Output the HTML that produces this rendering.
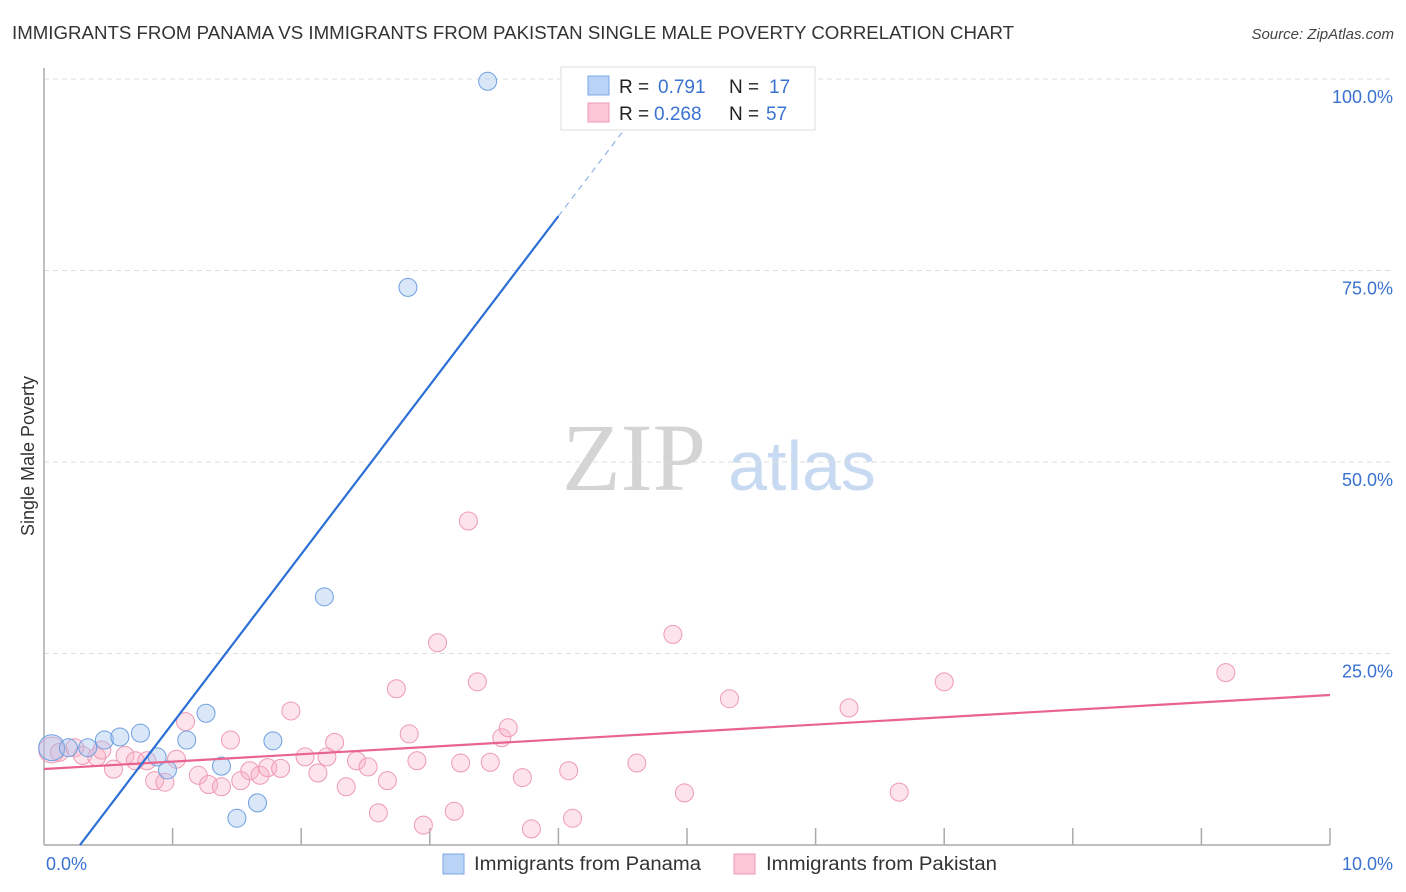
<!DOCTYPE html>
<html><head><meta charset="utf-8"><style>
body{margin:0;background:#fff;font-family:"Liberation Sans",sans-serif;}
#wrap{position:relative;width:1406px;height:892px;overflow:hidden;}
</style></head><body>
<div id="wrap">
<svg id="svg" width="1406" height="892" xmlns="http://www.w3.org/2000/svg">
<text x="12" y="39" font-size="18" fill="#333" textLength="1002" lengthAdjust="spacingAndGlyphs">IMMIGRANTS FROM PANAMA VS IMMIGRANTS FROM PAKISTAN SINGLE MALE POVERTY CORRELATION CHART</text>
<text x="1394" y="39" font-size="15" fill="#444" font-style="italic" text-anchor="end">Source: ZipAtlas.com</text>
<text x="34" y="456" font-size="18" fill="#333" text-anchor="middle" transform="rotate(-90 34 456)">Single Male Poverty</text>
<text x="634" y="490" font-size="96" fill="#d4d4d4" font-family="Liberation Serif,serif" text-anchor="middle">ZIP</text>
<text x="802" y="490" font-size="70" fill="#c8daf2" text-anchor="middle">atlas</text>
<g id="grid"></g>
<g id="marks"></g>
<g>
<rect x="561" y="67" width="254" height="63" fill="#fff" stroke="#ddd"/>
<rect x="588" y="76" width="21" height="19" fill="#b8d3f5" stroke="#7aa8e6"/>
<rect x="588" y="103" width="21" height="19" fill="#fbc7d7" stroke="#ef9ab5"/>
<text y="93" font-size="19" fill="#222"><tspan x="619">R =</tspan><tspan x="658" fill="#3a72d0">0.791</tspan><tspan x="729">N =</tspan><tspan x="769" fill="#3a72d0">17</tspan></text>
<text y="120" font-size="19" fill="#222"><tspan x="619">R =</tspan><tspan x="654" fill="#3a72d0">0.268</tspan><tspan x="729">N =</tspan><tspan x="766" fill="#3a72d0">57</tspan></text>
</g>
<g>
<rect x="443" y="854" width="21" height="20" fill="#b8d3f5" stroke="#7aa8e6"/>
<text x="474" y="870" font-size="19" fill="#333" textLength="227" lengthAdjust="spacingAndGlyphs">Immigrants from Panama</text>
<rect x="734" y="854" width="21" height="20" fill="#fbc7d7" stroke="#ef9ab5"/>
<text x="766" y="870" font-size="19" fill="#333" textLength="231" lengthAdjust="spacingAndGlyphs">Immigrants from Pakistan</text>
</g>
</svg>
</div>
<script>
const xTicks=[0,1,2,3,4,5,6,7,8,9,10];
const yTicks=[25,50,75,100];
const yTickLabels=["25.0%","50.0%","75.0%","100.0%"];
const panamaX=[0.06,0.19,0.34,0.47,0.59,0.75,0.88,0.96,1.11,1.26,1.38,1.50,1.66,1.78,2.18,2.83,3.45];
const panamaY=[12.7,12.7,12.7,13.7,14.1,14.6,11.5,9.8,13.7,17.2,10.3,3.5,5.5,13.6,32.4,72.8,99.7];
const pakistanX=[0.06,0.12,0.24,0.30,0.41,0.45,0.54,0.63,0.71,0.80,0.86,0.94,1.03,1.10,1.20,1.28,1.38,1.45,1.53,1.60,1.68,1.74,1.84,1.92,2.03,2.13,2.20,2.26,2.35,2.43,2.52,2.60,2.67,2.74,2.84,2.90,2.95,3.06,3.19,3.24,3.30,3.37,3.47,3.56,3.61,3.72,3.79,4.08,4.11,4.61,4.89,4.98,5.33,6.26,6.65,7.00,9.19];
const pakistanY=[12.4,12.1,12.7,11.7,11.5,12.4,9.9,11.7,11.0,11.0,8.4,8.2,11.2,16.1,9.1,7.9,7.6,13.7,8.4,9.7,9.1,10.1,10.0,17.5,11.5,9.4,11.5,13.4,7.6,11.0,10.2,4.2,8.4,20.4,14.5,11.0,2.6,26.4,4.4,10.7,42.3,21.3,10.8,14.0,15.3,8.8,2.1,9.7,3.5,10.7,27.5,6.8,19.1,17.9,6.9,21.3,22.5];
const panamaLine=[0.28,4.0];const panamaLineDash=[4.0,4.6];
const pakistanLine=[0,10];
function px(v){return 44+v*128.6;}
function py(v){return 845-v*7.66;}
function panamaFit(x){return 22.07*x-6.18;}
function pakistanFit(x){return 9.92+0.966*x;}
const NS="http://www.w3.org/2000/svg";
function mk(tag,attrs,parent){const e=document.createElementNS(NS,tag);for(const k in attrs)e.setAttribute(k,attrs[k]);parent.appendChild(e);return e;}
const grid=document.getElementById('grid'),marks=document.getElementById('marks');
yTicks.forEach((t,i)=>{
 const l=mk('line',{x1:44,x2:1393,y1:py(t),y2:py(t),stroke:'#ddd','stroke-dasharray':'5,4'},grid);
 
 
 const tx=mk('text',{x:1393,y:py(t)+24,'font-size':18,fill:'#3a72d0','text-anchor':'end'},grid);
 tx.textContent=yTickLabels[i];
 
 
});
const ax=mk('line',{x1:44,x2:44,y1:68,y2:845,stroke:'#aaa','stroke-width':1.5},grid);


const bx=mk('line',{x1:44,x2:1330,y1:845,y2:845,stroke:'#aaa','stroke-width':1.5},grid);


xTicks.slice(1).forEach(t=>{
 const l=mk('line',{x1:px(t),x2:px(t),y1:828,y2:845,stroke:'#aaa','stroke-width':1.5},grid);
 
 
});
const xl=mk('text',{x:46,y:870,'font-size':18,fill:'#3a72d0'},grid);xl.textContent='0.0%';


const xr=mk('text',{x:1393,y:870,'font-size':18,fill:'#3a72d0','text-anchor':'end'},grid);xr.textContent='10.0%';


pakistanX.forEach((x,i)=>{
 const c=mk('circle',{cx:px(x),cy:py(pakistanY[i]),r:i==0?13:9,fill:'rgba(248,175,198,0.35)',stroke:'#ee9ab4','stroke-width':1},marks);
 
 
});
panamaX.forEach((x,i)=>{
 const c=mk('circle',{cx:px(x),cy:py(panamaY[i]),r:i==0?13:9,fill:'rgba(160,196,240,0.4)',stroke:'#6f9fe0','stroke-width':1},marks);
 
 
});
const pl=mk('line',{x1:px(pakistanLine[0]),y1:py(pakistanFit(pakistanLine[0])),x2:px(pakistanLine[1]),y2:py(pakistanFit(pakistanLine[1])),stroke:'#e8638f','stroke-width':2.2},marks);


const bl=mk('line',{x1:px(panamaLine[0]),y1:py(panamaFit(panamaLine[0])),x2:px(panamaLine[1]),y2:py(panamaFit(panamaLine[1])),stroke:'#2c6fd6','stroke-width':2.2},marks);


const bd=mk('line',{x1:px(panamaLineDash[0]),y1:py(panamaFit(panamaLineDash[0])),x2:px(panamaLineDash[1]),y2:py(panamaFit(panamaLineDash[1])),stroke:'#8fb3e8','stroke-width':1.2,'stroke-dasharray':'6,5'},marks);


</script>
</body></html>
